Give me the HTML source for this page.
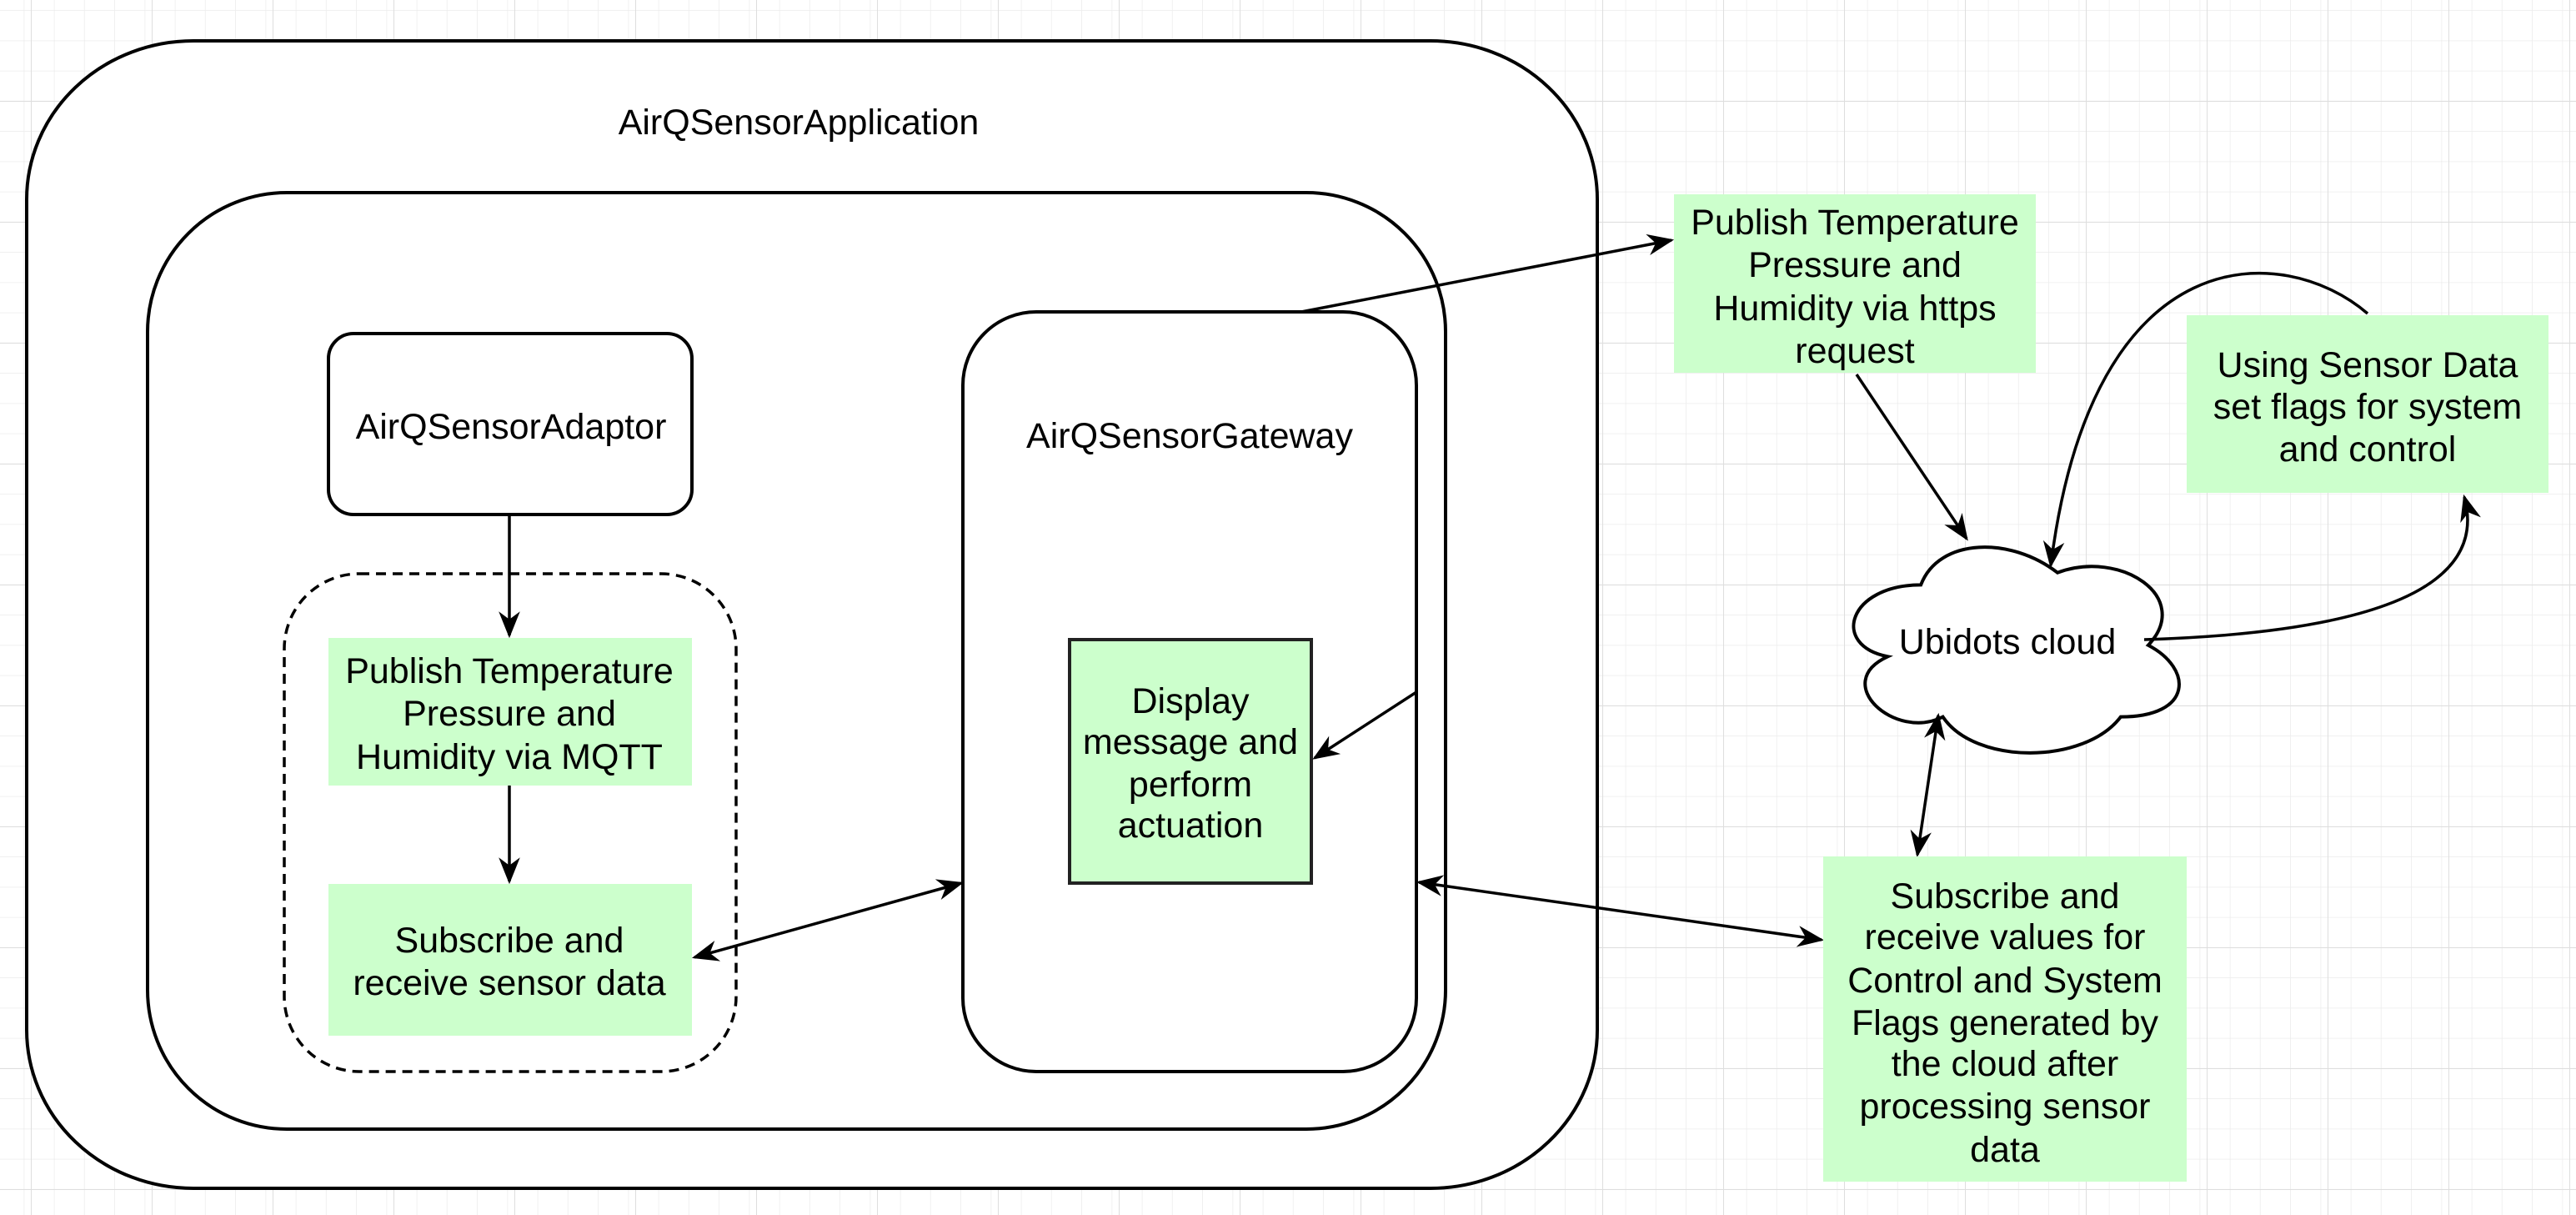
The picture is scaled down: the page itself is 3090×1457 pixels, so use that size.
<!DOCTYPE html>
<html><head><meta charset="utf-8"><style>
html,body{margin:0;padding:0;background:#fff}
svg{display:block}
text{font-family:"Liberation Sans",Arial,sans-serif;font-size:43px;fill:#000;text-anchor:middle}
</style></head><body>
<svg width="3090" height="1457" viewBox="0 0 3090 1457" xmlns="http://www.w3.org/2000/svg">
<defs>
<pattern id="minor" width="36.25" height="36.25" patternUnits="userSpaceOnUse" x="-7" y="13">
<path d="M36.25 0V36.25M0 36.25H36.25" stroke="#ececec" stroke-width="1.5" fill="none"/>
</pattern>
<pattern id="major" width="145" height="145" patternUnits="userSpaceOnUse" x="38" y="-23">
<path d="M145 0V145M0 145H145" stroke="#dedede" stroke-width="2" fill="none"/>
</pattern>
<marker id="a" viewBox="0 0 10 10" refX="9" refY="5" markerWidth="32" markerHeight="32" orient="auto-start-reverse" markerUnits="userSpaceOnUse">
<path d="M0 1L10 5L0 9L3 5Z" fill="#000"/>
</marker>
</defs>
<rect width="3090" height="1457" fill="url(#minor)"/>
<rect width="3090" height="1457" fill="url(#major)"/>

<rect x="32" y="49" width="1884" height="1376" rx="200" ry="190" fill="#fff" stroke="#000" stroke-width="4"/>
<text x="958" y="161">AirQSensorApplication</text>
<rect x="177" y="231" width="1557" height="1123" rx="167" ry="167" fill="#fff" stroke="#000" stroke-width="4"/>

<rect x="394" y="400" width="436" height="217" rx="30" fill="#fff" stroke="#000" stroke-width="4"/>
<text x="613" y="526">AirQSensorAdaptor</text>
<rect x="341" y="688" width="542" height="597" rx="90" fill="none" stroke="#000" stroke-width="3.5" stroke-dasharray="12 8"/>
<rect x="394" y="765" width="436" height="177" fill="#ccffcc"/>
<text x="611" y="819">Publish Temperature</text>
<text x="611" y="870">Pressure and</text>
<text x="611" y="922">Humidity via MQTT</text>
<rect x="394" y="1060" width="436" height="182" fill="#ccffcc"/>
<text x="611" y="1142">Subscribe and</text>
<text x="611" y="1193">receive sensor data</text>
<line x1="611" y1="617" x2="611" y2="762" stroke="#000" stroke-width="3.5" marker-end="url(#a)"/>
<line x1="611" y1="942" x2="611" y2="1057" stroke="#000" stroke-width="3.5" marker-end="url(#a)"/>

<rect x="1155" y="374" width="544" height="911" rx="88" fill="#fff" stroke="#000" stroke-width="4"/>
<text x="1427" y="537">AirQSensorGateway</text>
<rect x="1283" y="767" width="290" height="292" fill="#ccffcc" stroke="#222" stroke-width="4"/>
<text x="1428" y="855">Display</text>
<text x="1428" y="904">message and</text>
<text x="1428" y="955">perform</text>
<text x="1428" y="1004">actuation</text>
<line x1="1699" y1="830" x2="1577" y2="909" stroke="#000" stroke-width="3.5" marker-end="url(#a)"/>
<line x1="833" y1="1148" x2="1153" y2="1059" stroke="#000" stroke-width="3.5" marker-start="url(#a)" marker-end="url(#a)"/>

<line x1="1561" y1="374" x2="2005" y2="288" stroke="#000" stroke-width="3.5" marker-end="url(#a)"/>
<rect x="2008" y="233" width="434" height="214" fill="#ccffcc"/>
<text x="2225" y="281">Publish Temperature</text>
<text x="2225" y="332">Pressure and</text>
<text x="2225" y="384">Humidity via https</text>
<text x="2225" y="435">request</text>
<line x1="2227" y1="449" x2="2359" y2="646" stroke="#000" stroke-width="3.5" marker-end="url(#a)"/>

<path transform="translate(2413,776) scale(1.1,1.13) translate(-2413,-776)" vector-effect="non-scaling-stroke" d="M2314 710 C2235 710 2215 774 2278 786 C2215 814 2286 876 2338 850 C2373 901 2492 901 2532 850 C2611 850 2611 799 2562 774 C2611 723 2532 672 2463 697 C2413 659 2334 659 2314 710 Z" fill="#fff" stroke="#000" stroke-width="4"/>
<text x="2408" y="784">Ubidots cloud</text>

<rect x="2623" y="378" width="434" height="213" fill="#ccffcc"/>
<text x="2840" y="452">Using Sensor Data</text>
<text x="2840" y="502">set flags for system</text>
<text x="2840" y="553">and control</text>
<path d="M2840 376 C2740 290 2510 280 2460 678" fill="none" stroke="#000" stroke-width="3.5" marker-end="url(#a)"/>
<path d="M2572 767 C2800 760 2990 720 2956 596" fill="none" stroke="#000" stroke-width="3.5" marker-end="url(#a)"/>

<line x1="2325" y1="858" x2="2300" y2="1025" stroke="#000" stroke-width="3.5" marker-start="url(#a)" marker-end="url(#a)"/>
<line x1="1702" y1="1058" x2="2185" y2="1127" stroke="#000" stroke-width="3.5" marker-start="url(#a)" marker-end="url(#a)"/>
<rect x="2187" y="1027" width="436" height="390" fill="#ccffcc"/>
<text x="2405" y="1089">Subscribe and</text>
<text x="2405" y="1138">receive values for</text>
<text x="2405" y="1190">Control and System</text>
<text x="2405" y="1241">Flags generated by</text>
<text x="2405" y="1290">the cloud after</text>
<text x="2405" y="1341">processing sensor</text>
<text x="2405" y="1393">data</text>
</svg>
</body></html>
